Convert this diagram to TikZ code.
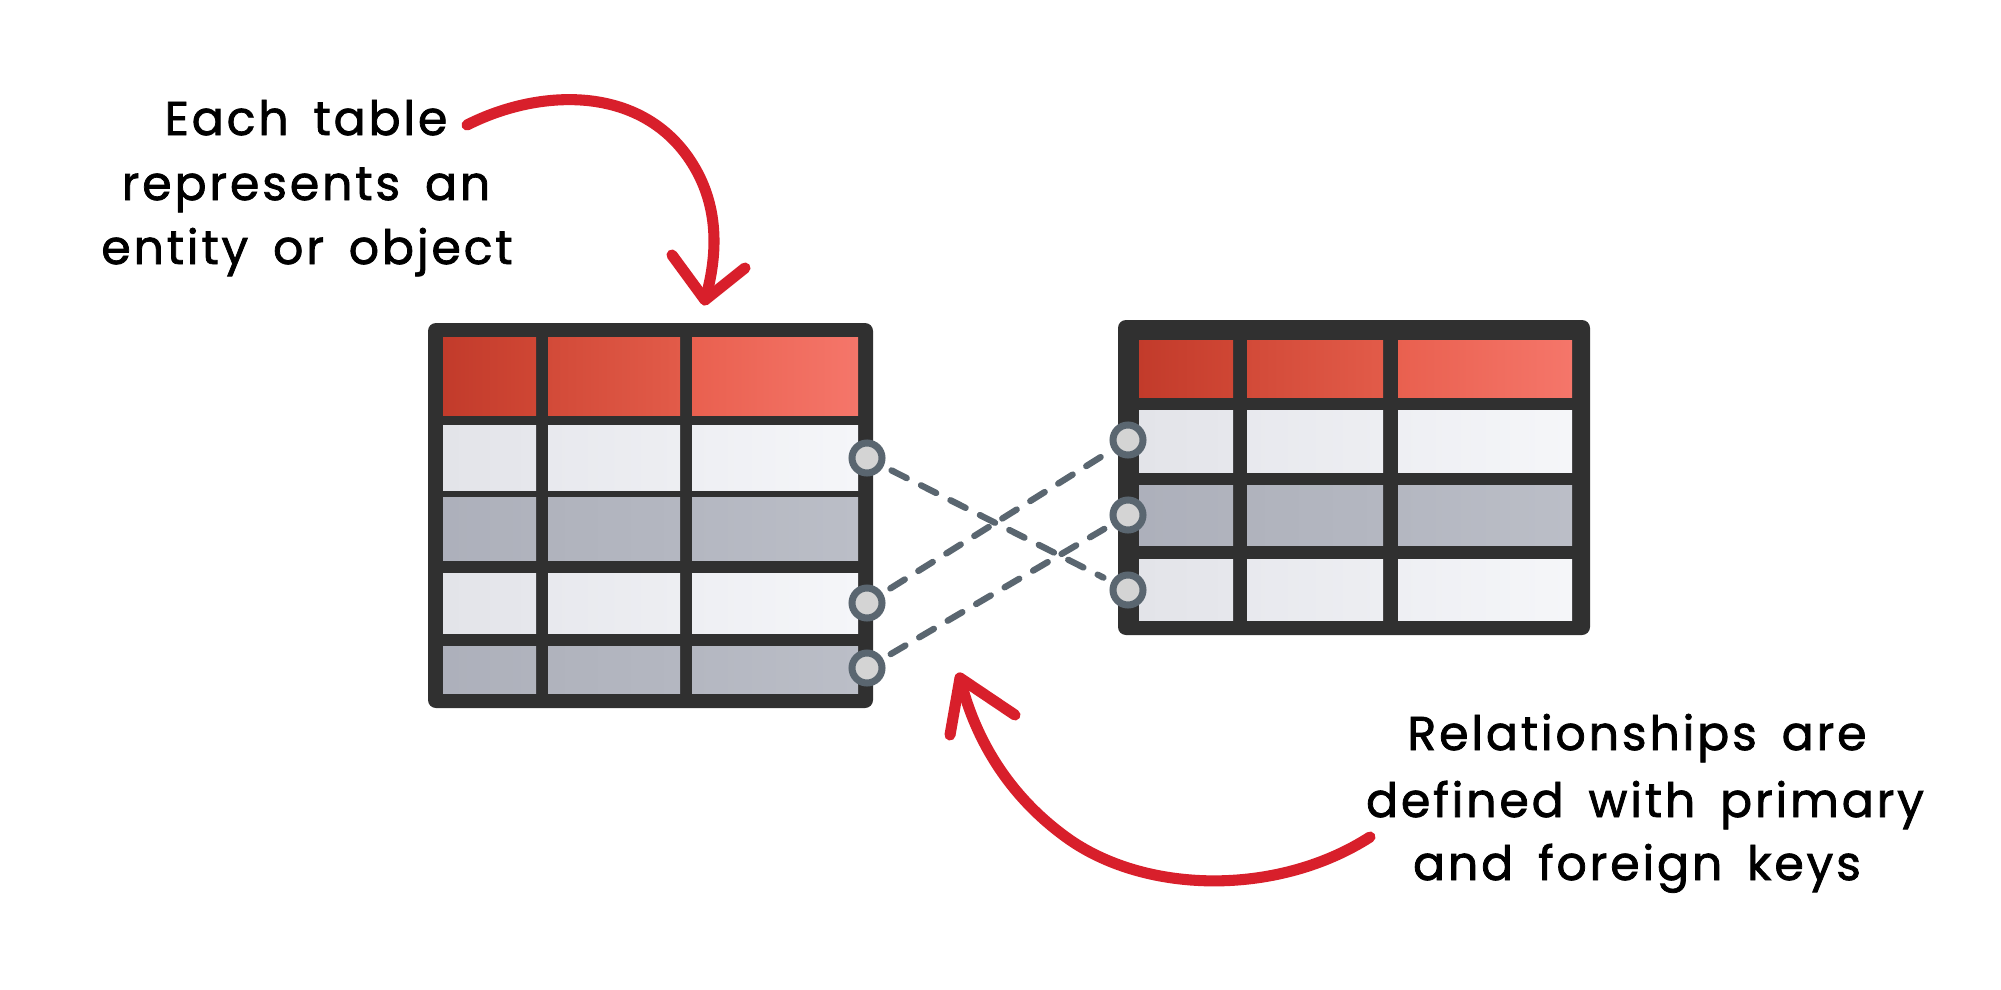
\documentclass[tikz,border=0pt]{standalone}
\usepackage{fontspec}
\setmainfont{Poppins}
\newfontfamily\handfont[LetterSpace=6,WordSpace=1.6,FakeBold=1.6]{Poppins}
\definecolor{frame}{HTML}{303030}
\definecolor{keygray}{HTML}{5A6670}
\definecolor{keyfill}{HTML}{D4D4D4}
\definecolor{arrowred}{HTML}{D81F2B}
\definecolor{hd1L}{HTML}{C23B2B}\definecolor{hd1R}{HTML}{CF4634}
\definecolor{hd2L}{HTML}{D24A38}\definecolor{hd2R}{HTML}{E25B49}
\definecolor{hd3L}{HTML}{E9604F}\definecolor{hd3R}{HTML}{F5766A}
\definecolor{lt1L}{HTML}{E3E4E9}\definecolor{lt1R}{HTML}{E6E7EC}
\definecolor{lt2L}{HTML}{E8E9EE}\definecolor{lt2R}{HTML}{EDEEF2}
\definecolor{lt3L}{HTML}{EEEFF3}\definecolor{lt3R}{HTML}{F5F6F9}
\definecolor{dk1L}{HTML}{ADB0BB}\definecolor{dk1R}{HTML}{B0B3BD}
\definecolor{dk2L}{HTML}{B0B3BD}\definecolor{dk2R}{HTML}{B4B7C1}
\definecolor{dk3L}{HTML}{B4B7C1}\definecolor{dk3R}{HTML}{BBBEC7}
\newcommand\tabcell[6]{\shade[left color=#5,right color=#6] (#1,#2) rectangle (#3,#4);}
\begin{document}
\begin{tikzpicture}[x=0.02cm,y=-0.02cm,
  tableframe/.style={fill=frame, rounded corners=0.16cm},
  keycircle/.style={circle, draw=keygray, fill=keyfill, line width=4pt, minimum size=0.6cm, inner sep=0pt},
  keylink/.style={draw=keygray, line width=3.6pt, line cap=round, dash pattern=on 0.34cm off 0.32cm, shorten <=0.18cm, shorten >=0.18cm},
  redarrow/.style={draw=arrowred, line width=6.3pt, line cap=round, line join=round},
  label/.style={font=\handfont\fontsize{27}{37}\selectfont, text=black, inner sep=0pt, anchor=base}
]
\useasboundingbox (0,0) rectangle (2001,990);
\fill[white] (0,0) rectangle (2001,990);

% left table
\fill[tableframe] (428,323) rectangle (873,708);
\foreach \xa/\xb/\c in {443/536/1,548/680/2,692/858/3}{
  \tabcell{\xa}{337}{\xb}{415}{hd\c L}{hd\c R}
  \tabcell{\xa}{425}{\xb}{490}{lt\c L}{lt\c R}
  \tabcell{\xa}{497}{\xb}{560}{dk\c L}{dk\c R}
  \tabcell{\xa}{573}{\xb}{633}{lt\c L}{lt\c R}
  \tabcell{\xa}{646}{\xb}{693}{dk\c L}{dk\c R}
}

% right table
\fill[tableframe] (1118,320) rectangle (1590,635);
\foreach \xa/\xb/\c in {1139/1233/1,1247/1383/2,1398/1572/3}{
  \tabcell{\xa}{340}{\xb}{397}{hd\c L}{hd\c R}
  \tabcell{\xa}{410}{\xb}{472}{lt\c L}{lt\c R}
  \tabcell{\xa}{485}{\xb}{545}{dk\c L}{dk\c R}
  \tabcell{\xa}{559}{\xb}{620}{lt\c L}{lt\c R}
}

% key circles
\node[keycircle] (L1) at (867,458) {};
\node[keycircle] (L2) at (867,603) {};
\node[keycircle] (L3) at (867,668) {};
\node[keycircle] (R1) at (1128,440) {};
\node[keycircle] (R2) at (1128,515) {};
\node[keycircle] (R3) at (1128,590) {};

% relationships
\draw[keylink] (L1) -- (R3);
\draw[keylink] (L2) -- (R1);
\draw[keylink] (L3) -- (R2);

% labels
\node[label] (ta) at (306,135) {Each table};
\node[label] (tb) at (306,200) {represents an};
\node[label] (tc) at (307,264) {entity or object};
\node[label] (ba) at (1637,750) {Relationships are};
\node[label] (bb) at (1645,817) {defined with primary};
\node[label] (bc) at (1637,880) {and foreign keys};

% arrows
\coordinate (a1tail) at (467,125);
\coordinate (a1tip) at (705,300);
\draw[redarrow] (a1tail) .. controls (540,88) and (640,85) .. (690,160) .. controls (720,205) and (718,255) .. (a1tip);
\draw[redarrow] (672,255) -- (a1tip) -- (745,268);

\coordinate (a2tail) at (1370,837);
\coordinate (a2tip) at (960,678);
\draw[redarrow] (a2tail) .. controls (1280,895) and (1150,895) .. (1070,840) .. controls (1010,798) and (975,740) .. (a2tip);
\draw[redarrow] (950,735) -- (a2tip) -- (1015,715);
\end{tikzpicture}
\end{document}
